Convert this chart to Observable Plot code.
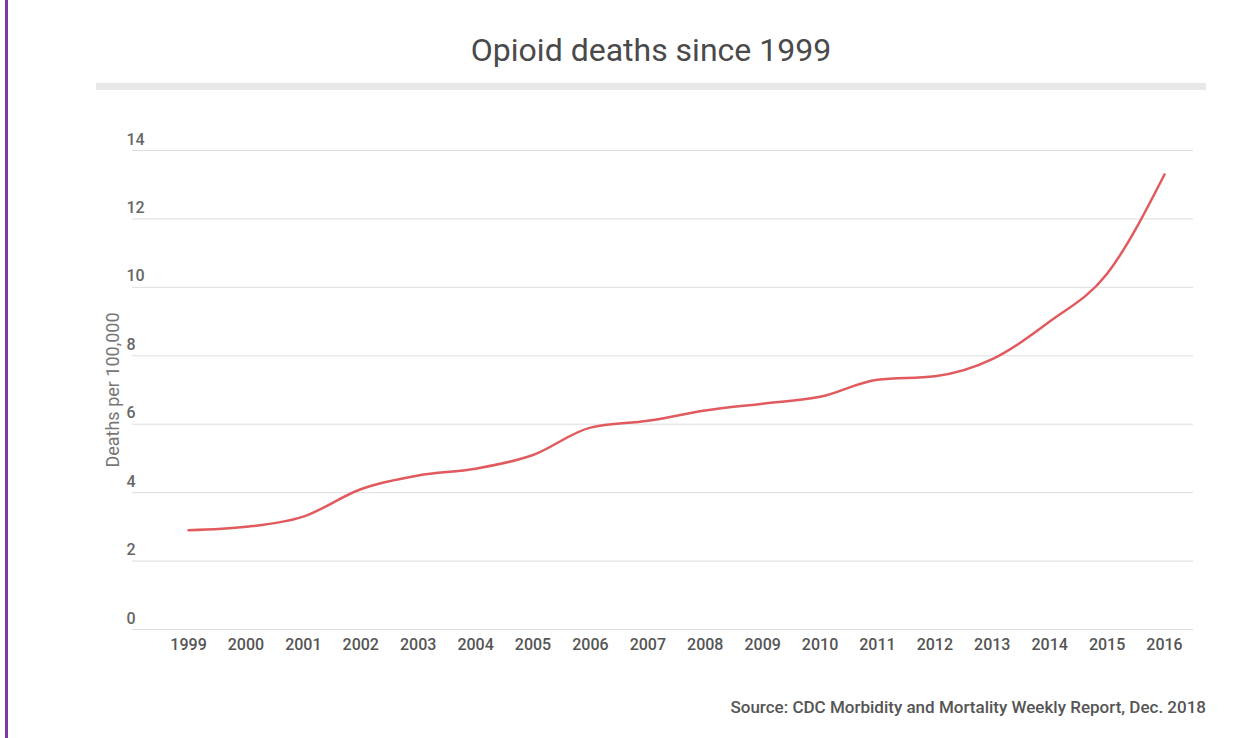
<!DOCTYPE html>
<html>
<head>
<meta charset="utf-8">
<script src="https://cdn.jsdelivr.net/npm/d3@7"></script>
<script src="https://cdn.jsdelivr.net/npm/@observablehq/plot@0.6"></script>
<style>
  html, body { margin: 0; padding: 0; background: #fff; }
  body { width: 1248px; height: 738px; position: relative; overflow: hidden; font-family: Roboto, "Noto Sans", sans-serif; }
  #bar-left { position: absolute; left: 5px; top: 0; width: 3px; height: 738px; background: #7b3aa6; }
  #title { position: absolute; left: 96px; width: 1110px; top: 30px; text-align: center; font-size: 32px; color: #4a4a4a; font-weight: 400; line-height: 40px; }
  #rule { position: absolute; left: 96px; width: 1110px; top: 83px; height: 7px; background: #e8e8e8; }
  #chart { position: absolute; left: 0; top: 100px; }
  #source { position: absolute; right: 42px; top: 697px; font-size: 17px; font-weight: 500; color: #555; line-height: 20px; }
</style>
</head>
<body>
<div id="bar-left"></div>
<div id="title">Opioid deaths since 1999</div>
<div id="rule"></div>
<div id="chart"></div>
<div id="source">Source: CDC Morbidity and Mortality Weekly Report, Dec. 2018</div>
<script>
const years = [1999, 2000, 2001, 2002, 2003, 2004, 2005, 2006, 2007, 2008, 2009, 2010, 2011, 2012, 2013, 2014, 2015, 2016];
const deathsPer100k = [2.9, 3.0, 3.3, 4.1, 4.5, 4.7, 5.1, 5.9, 6.1, 6.4, 6.6, 6.8, 7.3, 7.4, 7.9, 9.0, 10.4, 13.3];
const yTicks = [0, 2, 4, 6, 8, 10, 12, 14];
const yLabel = "Deaths per 100,000";

const data = years.map((y, i) => ({year: y, value: deathsPer100k[i]}));

const chart = Plot.plot({
  width: 1248,
  height: 580,
  marginLeft: 132,
  marginRight: 55,
  marginTop: 50,
  marginBottom: 51,
  style: {fontFamily: "Roboto, 'Noto Sans', sans-serif", background: "transparent"},
  x: {type: "linear", domain: [1998.024, 2016.505]},
  y: {domain: [0, 14]},
  marks: [
    Plot.gridY(yTicks, {stroke: "#dedede", strokeOpacity: 1, strokeWidth: 1}),
    Plot.axisY(yTicks, {anchor: "left", tickSize: 0, textAnchor: "start", dx: 3, dy: -11, fontSize: 16, fontWeight: 500, fill: "#666", label: null}),
    Plot.axisX(years, {anchor: "bottom", tickSize: 0, tickPadding: 9, tickFormat: d => String(d), fontSize: 16, fontWeight: 500, fill: "#555", label: null}),
    Plot.text([yLabel], {frameAnchor: "left", textAnchor: "middle", rotate: -90, dx: -19, fontSize: 18, fill: "#777"}),
    Plot.lineY(data, {x: "year", y: "value", curve: "monotone-x", stroke: "#e05a5e", strokeWidth: 2.5})
  ]
});
document.getElementById("chart").appendChild(chart);
</script>
</body>
</html>
